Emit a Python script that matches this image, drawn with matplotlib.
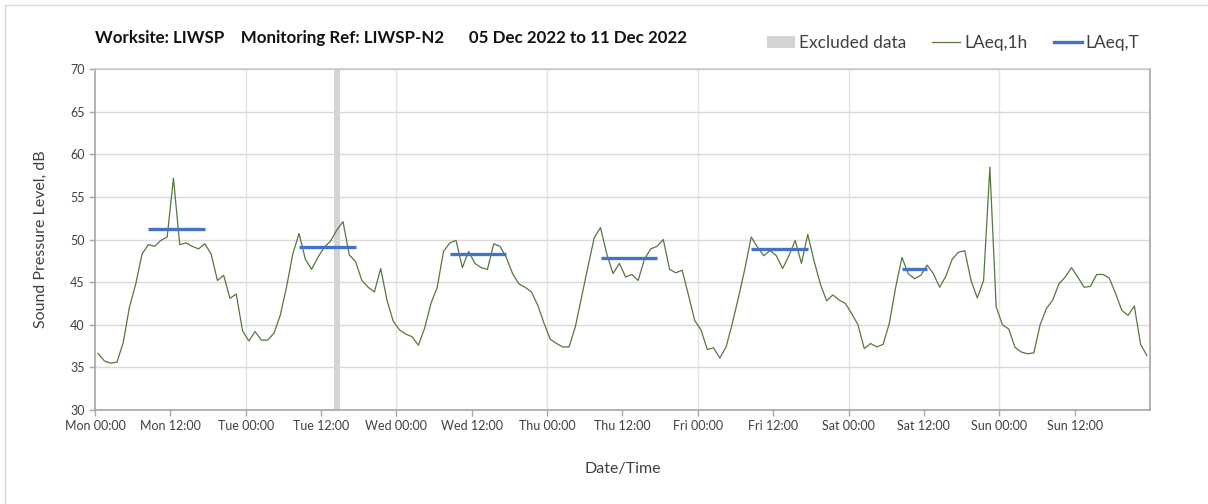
import numpy as np
import matplotlib
matplotlib.use("Agg")
import matplotlib.pyplot as plt
from matplotlib.lines import Line2D
from matplotlib.patches import Patch

# === Data (hourly LAeq, 05-11 Dec 2022) ===
laeq_1h = [
    36.65, 35.75, 35.5, 35.6, 37.9, 42.1, 44.8, 48.3, 49.4, 49.2, 49.9, 50.3,
    57.2, 49.4, 49.6, 49.2, 48.9, 49.5, 48.3, 45.2, 45.8, 43.1, 43.6, 39.3,
    38.1, 39.2, 38.2, 38.2, 39.0, 41.1, 44.4, 48.3, 50.7, 47.7, 46.5, 47.9,
    49.1, 49.8, 51.1, 52.1, 48.2, 47.4, 45.2, 44.4, 43.85, 46.6, 42.9, 40.4,
    39.4, 38.9, 38.6, 37.6, 39.6, 42.5, 44.4, 48.6, 49.6, 49.9, 46.7, 48.6,
    47.2, 46.7, 46.5, 49.5, 49.2, 47.9, 46.0, 44.8, 44.4, 43.85, 42.3, 40.2,
    38.3, 37.8, 37.4, 37.4, 39.8, 43.3, 46.8, 50.2, 51.4, 48.3, 46.0, 47.2,
    45.6, 45.9, 45.2, 47.7, 48.9, 49.2, 50.0, 46.5, 46.1, 46.4, 43.5, 40.5,
    39.4, 37.1, 37.3, 36.1, 37.4, 40.2, 43.3, 46.6, 50.3, 49.1, 48.1, 48.7,
    48.1, 46.6, 48.1, 49.9, 47.2, 50.6, 47.5, 44.8, 42.8, 43.5, 42.9, 42.5,
    41.3, 40.0, 37.2, 37.8, 37.4, 37.7, 40.2, 44.4, 47.9, 46.0, 45.4, 45.8,
    47.0, 46.0, 44.4, 45.7, 47.7, 48.5, 48.7, 45.2, 43.15, 45.2, 58.5, 42.1,
    40.0, 39.5, 37.35, 36.8, 36.6, 36.7, 40.0, 41.9, 42.9, 44.8, 45.6, 46.7,
    45.6, 44.4, 44.5, 45.9, 45.9, 45.5, 43.7, 41.7, 41.1, 42.2, 37.7, 36.4,
]

# daytime LAeq,T periods (hour from Mon 00:00)
laeq_t_start = [8, 32, 56, 80, 104, 128]
laeq_t_end = [18, 42, 66, 90, 114, 133]
laeq_t = [51.2, 49.1, 48.3, 47.8, 48.9, 46.6]

excluded_hours = [38]

tick_labels = ["Mon 00:00", "Mon 12:00", "Tue 00:00", "Tue 12:00", "Wed 00:00",
               "Wed 12:00", "Thu 00:00", "Thu 12:00", "Fri 00:00", "Fri 12:00",
               "Sat 00:00", "Sat 12:00", "Sun 00:00", "Sun 12:00"]

TITLE = "Worksite: LIWSP    Monitoring Ref: LIWSP-N2      05 Dec 2022 to 11 Dec 2022"

GREEN = "#57773f"
BLUE = "#4472c4"
GREY = "#d4d4d4"
TEXT = "#404040"
AXIS = "#a6a6a6"


def main():
    plt.rcParams["font.family"] = ["Lato", "DejaVu Sans"]

    fig = plt.figure(figsize=(12.08, 5.04), dpi=100)
    ax = fig.add_axes([0.0786, 0.1865, 0.8734, 0.6765])

    hours = np.arange(len(laeq_1h)) + 0.5

    # excluded data bars
    for h in excluded_hours:
        ax.axvspan(h + 0.1, h + 1.0, color=GREY, lw=0, zorder=1)

    ax.plot(hours, laeq_1h, color=GREEN, lw=0.9, zorder=3)

    for s, e, v in zip(laeq_t_start, laeq_t_end, laeq_t):
        ax.plot([s + 0.5, e - 0.5], [v, v], color=BLUE, lw=2.4,
                solid_capstyle="butt", zorder=4)

    ax.set_xlim(0, 168)
    ax.set_ylim(30, 70)
    ax.set_xticks(np.arange(0, 168, 12))
    ax.set_xticklabels(tick_labels)
    ax.set_yticks(np.arange(30, 71, 5))

    # grid: horizontal every 5 dB, vertical at midnight
    ax.grid(axis="y", color="#d9d9d9", lw=1.0, zorder=0)
    for d in range(24, 168, 24):
        ax.axvline(d, color="#e3e3e3", lw=1.0, zorder=0)

    for side in ["left", "bottom", "right"]:
        ax.spines[side].set_color(AXIS)
        ax.spines[side].set_linewidth(1.2)
    ax.spines["top"].set_color("#c8c8c8")
    ax.spines["top"].set_linewidth(1.2)

    ax.tick_params(axis="both", colors=AXIS, labelcolor=TEXT, labelsize=9,
                   length=4, width=1)
    ax.set_xlabel("Date/Time", fontsize=11.5, color=TEXT, labelpad=21)
    ax.set_ylabel("Sound Pressure Level, dB", fontsize=11.5, color=TEXT, labelpad=16)

    fig.text(0.0786, 0.925, TITLE, fontsize=12.2, fontweight="bold", color="#111111",
             va="center", ha="left")

    handles = [Patch(facecolor=GREY, edgecolor="none"),
               Line2D([0], [0], color=GREEN, lw=0.9),
               Line2D([0], [0], color=BLUE, lw=2.4)]
    fig.legend(handles, ["Excluded data", "LAeq,1h", "LAeq,T"], ncol=3,
               loc="center right", bbox_to_anchor=(0.952, 0.915), frameon=False,
               fontsize=12.5, handlelength=1.6, handletextpad=0.25, columnspacing=1.5,
               labelcolor=TEXT, borderaxespad=0.2)

    # thin frame at top and left like the report box
    fig.add_artist(Line2D([0.004, 0.004], [0, 0.99], color="#d9d9d9", lw=1,
                          transform=fig.transFigure))
    fig.add_artist(Line2D([0.004, 1.0], [0.99, 0.99], color="#d9d9d9", lw=1,
                          transform=fig.transFigure))

    fig.savefig("out.png", dpi=100)
    print("Saved plot to out.png")


if __name__ == "__main__":
    main()
